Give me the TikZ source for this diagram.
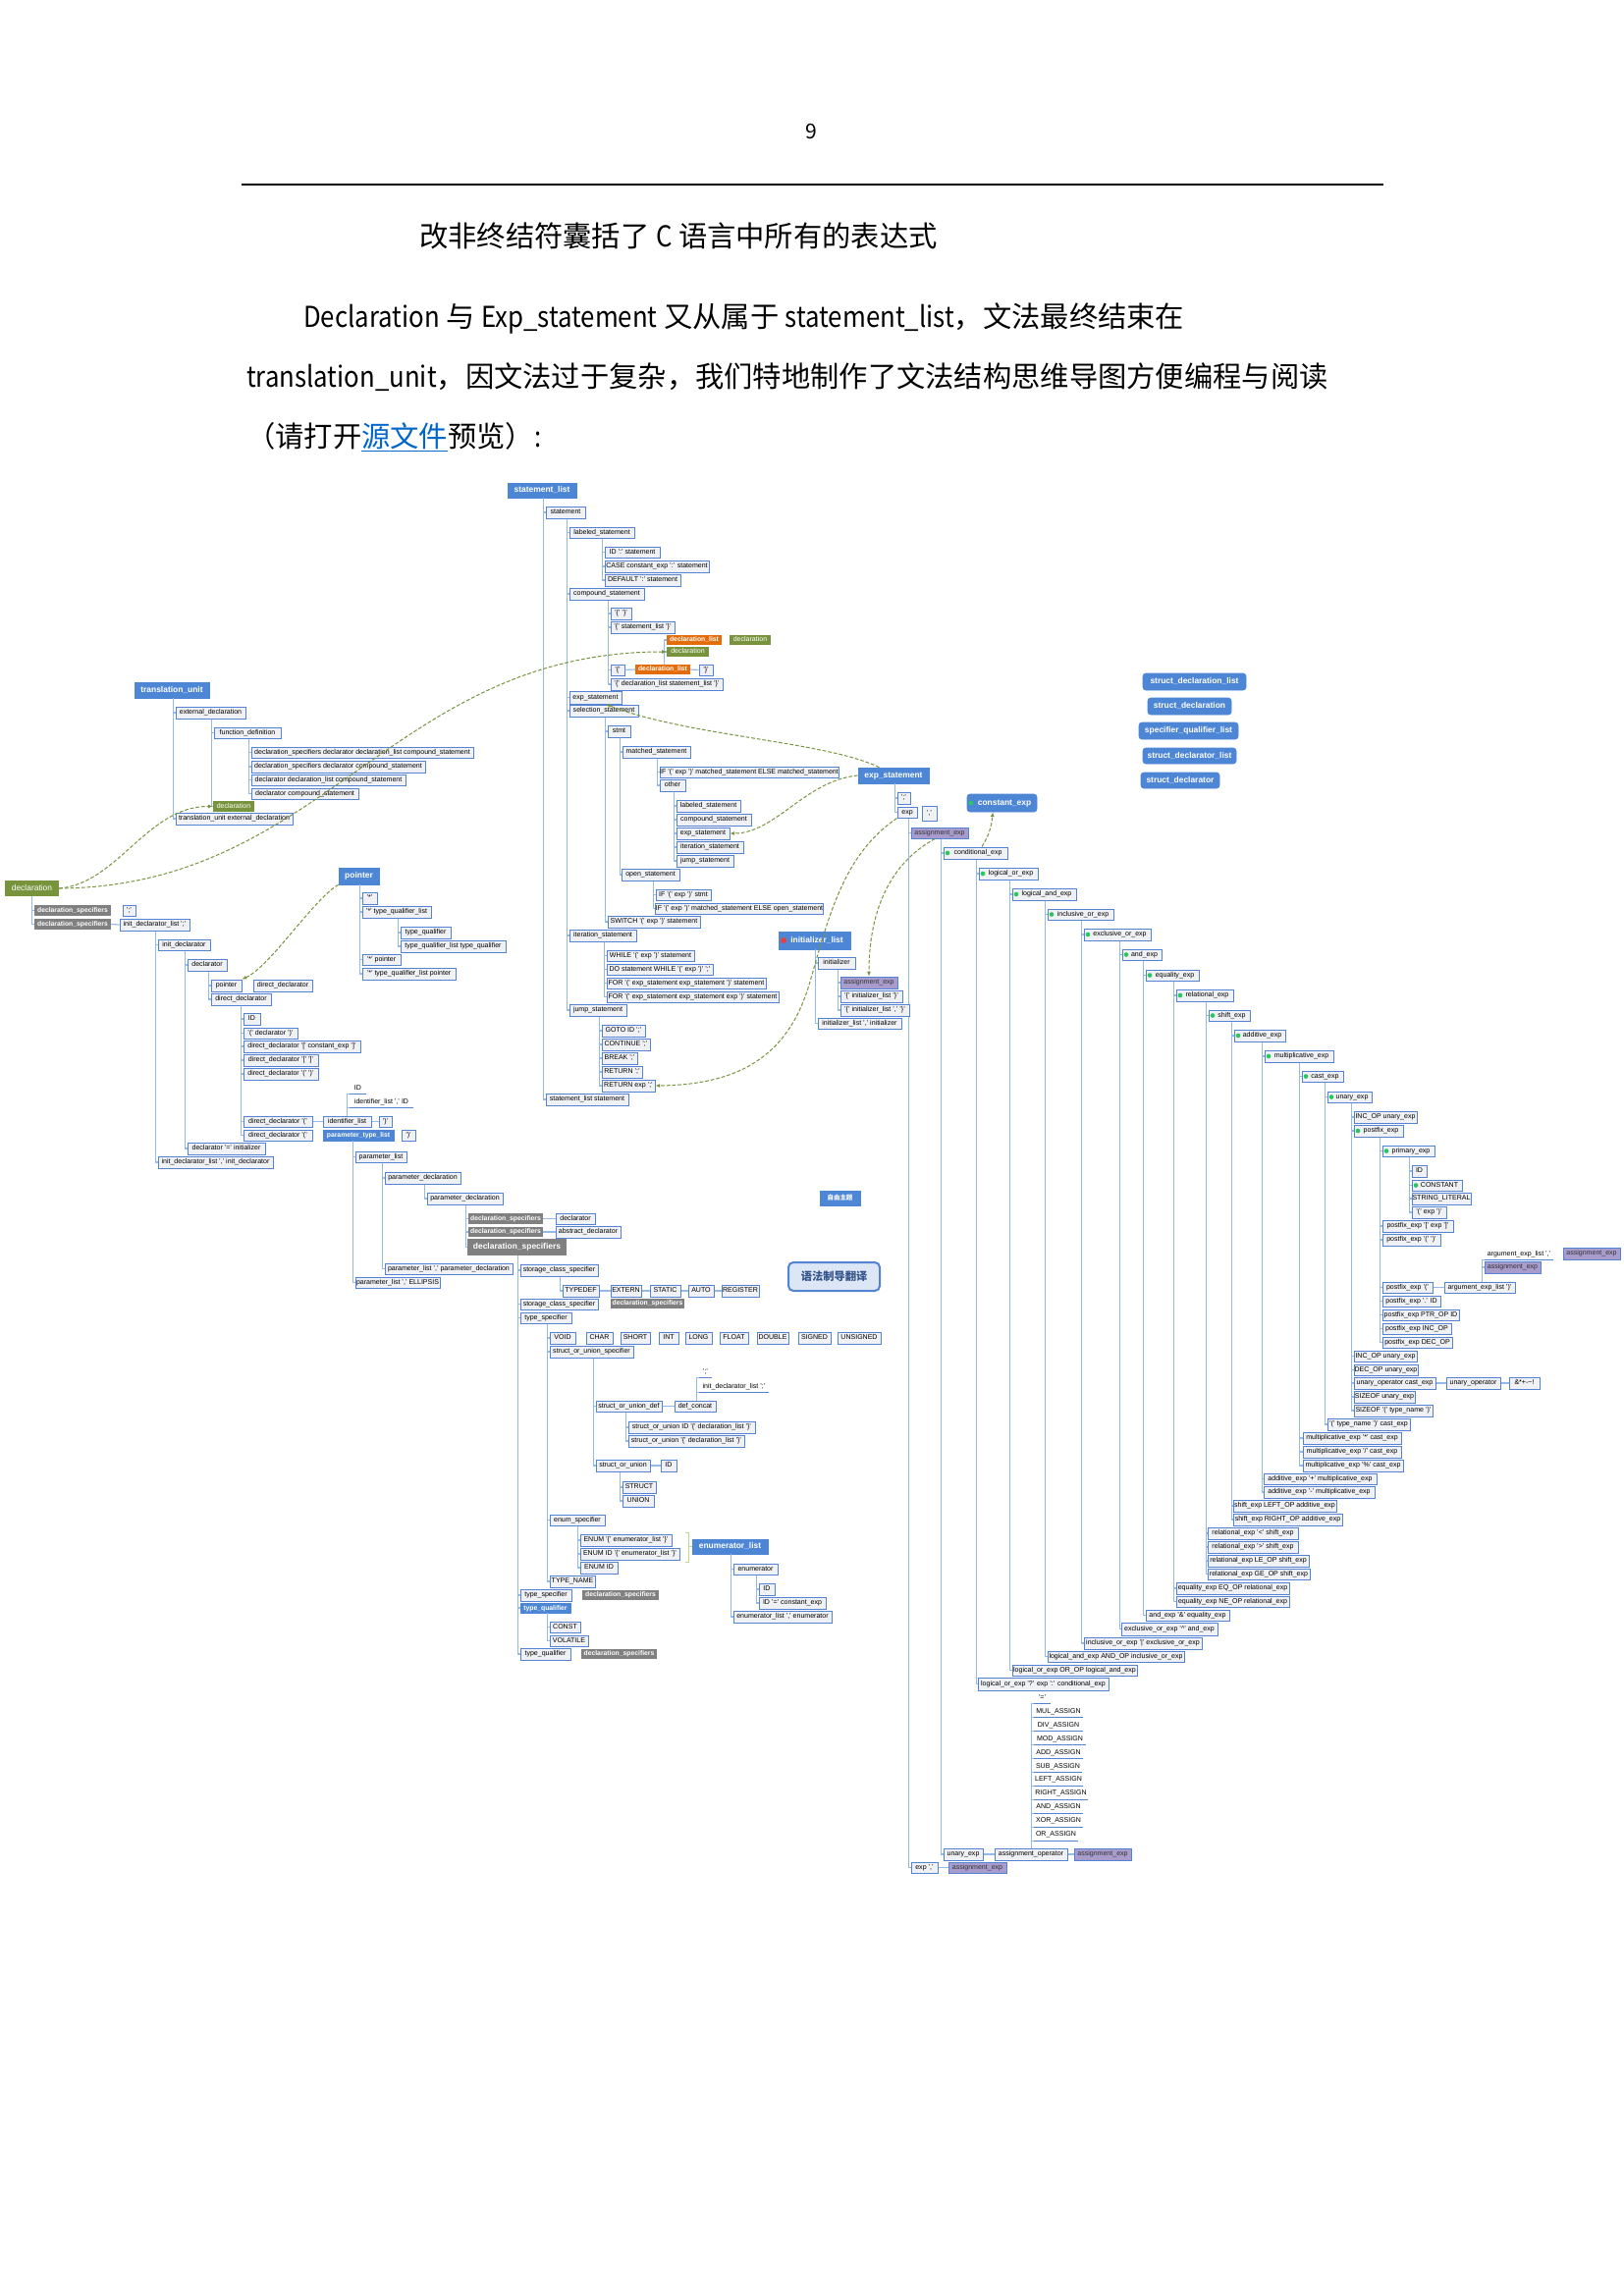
\documentclass[tikz,border=0pt]{standalone}
\usepackage{fontspec}
\setmainfont{Liberation Sans}
\newfontfamily\cjk{Noto Sans CJK SC}
\newfontfamily\lat{Noto Sans CJK SC}[FakeStretch=0.88]
\usetikzlibrary{arrows.meta,calc}
\definecolor{bd}{RGB}{84,130,212}
\definecolor{bf}{RGB}{240,241,244}
\definecolor{hbf}{RGB}{78,134,214}
\definecolor{grf}{RGB}{128,128,128}
\definecolor{orf}{RGB}{228,108,10}
\definecolor{olf}{RGB}{119,147,60}
\definecolor{puf}{RGB}{168,156,204}
\definecolor{tlc}{RGB}{150,185,230}
\definecolor{chk}{RGB}{40,200,90}
\definecolor{rdc}{RGB}{232,64,64}
\definecolor{ysf}{RGB}{220,230,244}
\definecolor{yst}{RGB}{52,84,140}
\definecolor{brk}{RGB}{190,214,140}
\definecolor{lnk}{RGB}{0,102,204}
\newcommand\dfs{\fontsize{6}{7}\selectfont}
\newcommand\dfsb{\fontsize{5.8}{7}\selectfont\bfseries}
\newcommand\dfb{\fontsize{7.2}{8}\selectfont\bfseries}
\newcommand\icn{\hspace*{1.5mm}}
\newcommand\Bx[7]{\node[#2,minimum width={(#5-#3)*0.3mm},minimum height={(#6-#4)*0.3mm}] (#1) at ({(#3+#5)/2},{(#4+#6)/2}) {#7};}
\newcommand\Ul[6]{\Bx{#1}{ul}{#2}{#3}{#4}{#5}{#6}\draw[ulc] (#1.south west) -- (#1.south east);}
\newcommand\Tr[3]{\foreach \nd in {#3}{\draw[tl] ($(#1.south -| #2.west)+(-2,0)$) |- (\nd.west);}}
\newcommand\Up[4]{\foreach \nd in {#3}{\draw[tl] ($(#1.north -| #2.west)+(-2,0)$) |- (\nd.#4);}}
\newcommand\Hl[2]{\draw[tl] (#1.east) -- (#2.west);}
\tikzset{
 b/.style={draw=bd,fill=bf,line width=0.3mm,inner sep=0,font=\dfs,text=black,text height=1.6mm,text depth=0.45mm},
 hb/.style={fill=hbf,draw=hbf,line width=0.2mm,inner sep=0,font=\dfb,text=white,text height=2mm,text depth=0.6mm},
 rb/.style={hb,rounded corners=0.9mm},
 gr/.style={fill=grf,inner sep=0,font=\dfsb,text=white,text height=1.55mm,text depth=0.45mm},
 grb/.style={fill=grf,inner sep=0,font=\dfb,text=white,text height=2mm,text depth=0.6mm},
 org/.style={fill=orf,inner sep=0,font=\dfsb,text=white,text height=1.55mm,text depth=0.45mm},
 grn/.style={fill=olf,inner sep=0,font=\dfs,text=white,text height=1.55mm,text depth=0.45mm},
 grnb/.style={fill=olf,inner sep=0,font=\fontsize{7.2}{8}\selectfont,text=white,text height=2mm,text depth=0.6mm},
 pur/.style={b,fill=puf,text=black!80},
 ul/.style={inner sep=0,font=\dfs,text=black,text height=1.6mm,text depth=0.45mm},
 ulc/.style={draw=bd,line width=0.45mm},
 ic/.style={path picture={\fill[chk] ([xshift=1.2mm]path picture bounding box.west) circle (0.7mm);}},
 rdic/.style={path picture={\fill[rdc] ([xshift=1.5mm]path picture bounding box.west) circle (0.9mm);}},
 tl/.style={draw=tlc,line width=0.35mm},
 dsh/.style={draw=olf,line width=0.3mm,dash pattern=on 1.1mm off 0.6mm,-{Latex[length=1.4mm,width=1.2mm]}},
 txt/.style={font=\cjk\fontsize{25}{29}\selectfont,inner sep=0,anchor=west}
}
\begin{document}
\begin{tikzpicture}[x=0.3mm,y=-0.3mm]
\useasboundingbox[fill=white] (0,0) rectangle (1654,2339);
% ---------- page text ----------
\node[font=\cjk\fontsize{18}{20}\selectfont] (pg) at (826,134) {9};
\draw[line width=0.8mm] (246,188) -- (1409,188);
\node[txt] (l1) at (427,240) {改非终结符囊括了 {\lat C} 语言中所有的表达式};
\node[txt] (l2) at (309,324) {{\lat Declaration} 与 {\lat Exp\_statement} 又从属于 {\lat statement\_list}，文法最终结束在};
\node[txt] (l3) at (251,384) {{\lat translation\_unit}，因文法过于复杂，我们特地制作了文法结构思维导图方便编程与阅读};
\node[txt] (l4) at (251,445) {（请打开\textcolor{lnk}{\underline{源文件}}预览）{\lat :}};
% ---------- statement tree ----------
\Bx{stl}{hb}{517}{492}{587}{507}{statement\_list}
\Bx{stm}{b}{556}{516}{596}{528}{statement}
\Bx{lab}{b}{580}{537}{646}{548}{labeled\_statement}
\Bx{lab1}{b}{616}{557}{672}{568}{ID ':' statement}
\Bx{lab2}{b}{616}{571}{722}{583}{CASE constant\_exp ':' statement}
\Bx{lab3}{b}{616}{585}{693}{597}{DEFAULT ':' statement}
\Bx{cmp}{b}{580}{599}{656}{611}{compound\_statement}
\Bx{cmp1}{b}{622}{619}{643}{631}{'\{' '\}'}
\Bx{cmp2}{b}{622}{633}{687}{645}{'\{' statement\_list '\}'}
\Bx{dlo1}{org}{679}{647}{735}{657}{declaration\_list}
\Bx{dg1}{grn}{743}{647}{785}{657}{declaration}
\Bx{dg2}{grn}{679}{659}{722}{669}{declaration}
\Bx{cmp3}{b}{622}{677}{636}{688}{'\{'}
\Bx{dlo2}{org}{647}{677}{703}{687}{declaration\_list}
\Bx{cmp3b}{b}{712}{677}{726}{688}{'\}'}
\Bx{cmp4}{b}{622}{691}{736}{703}{'\{' declaration\_list statement\_list '\}'}
\Bx{exs}{b}{580}{704}{633}{717}{exp\_statement}
\Bx{sel}{b}{580}{718}{650}{730}{selection\_statement}
\Bx{stmt}{b}{619}{739}{642}{751}{stmt}
\Bx{mat}{b}{634}{760}{703}{772}{matched\_statement}
\Bx{mat1}{b}{672}{781}{854}{792}{IF '(' exp ')' matched\_statement ELSE matched\_statement}
\Bx{oth}{b}{672}{794}{698}{806}{other}
\Bx{oth1}{b}{689}{815}{754}{827}{labeled\_statement}
\Bx{oth2}{b}{689}{829}{765}{841}{compound\_statement}
\Bx{oth3}{b}{689}{843}{743}{855}{exp\_statement}
\Bx{oth4}{b}{689}{857}{757}{869}{iteration\_statement}
\Bx{oth5}{b}{689}{871}{747}{883}{jump\_statement}
\Bx{opn}{b}{633}{885}{692}{897}{open\_statement}
\Bx{opn1}{b}{668}{906}{724}{917}{IF '(' exp ')' stmt}
\Bx{opn2}{b}{668}{920}{838}{931}{IF '(' exp ')' matched\_statement ELSE open\_statement}
\Bx{sw}{b}{619}{933}{713}{945}{SWITCH '(' exp ')' statement}
\Bx{itr}{b}{580}{947}{648}{959}{iteration\_statement}
\Bx{it1}{b}{618}{968}{707}{979}{WHILE '(' exp ')' statement}
\Bx{it2}{b}{618}{982}{726}{993}{DO statement WHILE '(' exp ')' ';'}
\Bx{it3}{b}{618}{996}{780}{1007}{FOR '(' exp\_statement exp\_statement ')' statement}
\Bx{it4}{b}{618}{1010}{793}{1021}{FOR '(' exp\_statement exp\_statement exp ')' statement}
\Bx{jmp}{b}{580}{1023}{638}{1035}{jump\_statement}
\Bx{jp1}{b}{613}{1044}{657}{1056}{GOTO ID ';'}
\Bx{jp2}{b}{613}{1058}{662}{1070}{CONTINUE ';'}
\Bx{jp3}{b}{613}{1072}{649}{1084}{BREAK ';'}
\Bx{jp4}{b}{613}{1086}{654}{1098}{RETURN ';'}
\Bx{jp5}{b}{613}{1100}{667}{1112}{RETURN exp ';'}
\Bx{stls}{b}{556}{1114}{640}{1126}{statement\_list statement}
\Tr{stl}{stm}{stm,stls}
\Tr{stm}{lab}{lab,cmp,exs,sel,itr,jmp}
\Tr{lab}{lab1}{lab1,lab2,lab3}
\Tr{cmp}{cmp1}{cmp1,cmp2,cmp3,cmp4}
\Tr{sel}{stmt}{stmt,sw}
\Tr{stmt}{mat}{mat,opn}
\Tr{mat}{mat1}{mat1,oth}
\Tr{oth}{oth1}{oth1,oth2,oth3,oth4,oth5}
\Tr{opn}{opn1}{opn1,opn2}
\Tr{itr}{it1}{it1,it2,it3,it4}
\Tr{jmp}{jp1}{jp1,jp2,jp3,jp4,jp5}
\Up{dlo2}{dlo1}{dlo1,dg2}{west}
\Hl{cmp3}{dlo2}\Hl{dlo2}{cmp3b}
% ---------- translation unit ----------
\Bx{tu}{hb}{137}{695}{213}{711}{translation\_unit}
\Bx{ext}{b}{179}{720}{250}{732}{external\_declaration}
\Bx{fd}{b}{218}{741}{286}{752}{function\_definition}
\Bx{fd1}{b}{256}{761}{482}{772}{declaration\_specifiers declarator declaration\_list compound\_statement}
\Bx{fd2}{b}{256}{775}{433}{787}{declaration\_specifiers declarator compound\_statement}
\Bx{fd3}{b}{256}{789}{413}{800}{declarator declaration\_list compound\_statement}
\Bx{fd4}{b}{256}{803}{365}{814}{declarator compound\_statement}
\Bx{dg3}{grn}{217}{816}{259}{827}{declaration}
\Bx{tu2}{b}{179}{828}{298}{840}{translation\_unit external\_declaration}
\Tr{tu}{ext}{ext,tu2}
\Tr{ext}{fd}{fd,dg3}
\Tr{fd}{fd1}{fd1,fd2,fd3,fd4}
% ---------- declaration ----------
\Bx{dec}{grnb}{5}{897}{60}{913}{declaration}
\Bx{ds1}{gr}{35}{922}{113}{933}{declaration\_specifiers}
\Bx{sc1}{b}{125}{922}{138}{933}{';'}
\Bx{ds2}{gr}{35}{936}{113}{947}{declaration\_specifiers}
\Bx{idl}{b}{122}{936}{193}{948}{init\_declarator\_list ';'}
\Bx{ind}{b}{161}{957}{214}{968}{init\_declarator}
\Bx{dcl}{b}{191}{977}{231}{989}{declarator}
\Bx{ptr2}{b}{215}{998}{246}{1010}{pointer}
\Bx{dd0}{b}{258}{998}{318}{1010}{direct\_declarator}
\Bx{dd}{b}{215}{1012}{276}{1024}{direct\_declarator}
\Bx{dd1}{b}{248}{1032}{265}{1044}{ID}
\Bx{dd2}{b}{248}{1047}{303}{1058}{'(' declarator ')'}
\Bx{dd3}{b}{248}{1060}{367}{1072}{direct\_declarator '[' constant\_exp ']'}
\Bx{dd4}{b}{248}{1074}{324}{1086}{direct\_declarator '[' ']'}
\Bx{dd5}{b}{248}{1088}{324}{1100}{direct\_declarator '(' ')'}
\Ul{uid}{356}{1103}{373}{1114}{ID}
\Ul{uidl}{356}{1117}{421}{1128}{identifier\_list ',' ID}
\Bx{dd6}{b}{248}{1137}{318}{1148}{direct\_declarator '('}
\Bx{idlst}{b}{329}{1137}{378}{1148}{identifier\_list}
\Bx{rp1}{b}{386}{1137}{399}{1148}{')'}
\Bx{dd7}{b}{248}{1151}{318}{1162}{direct\_declarator '('}
\Bx{ptl}{hb}{329}{1151}{401}{1162}{\dfsb parameter\_type\_list}
\Bx{rp2}{b}{409}{1151}{423}{1162}{')'}
\Bx{dcl2}{b}{191}{1164}{270}{1176}{declarator '=' initializer}
\Bx{idl2}{b}{161}{1178}{278}{1190}{init\_declarator\_list ',' init\_declarator}
\Bx{pl}{b}{362}{1173}{414}{1184}{parameter\_list}
\Bx{pd}{b}{392}{1194}{469}{1206}{parameter\_declaration}
\Bx{pd2}{b}{435}{1215}{512}{1227}{parameter\_declaration}
\Bx{ds3}{gr}{477}{1236}{553}{1247}{declaration\_specifiers}
\Bx{dclr}{b}{566}{1236}{606}{1247}{declarator}
\Bx{ds4}{gr}{477}{1250}{553}{1260}{declaration\_specifiers}
\Bx{absd}{b}{566}{1249}{632}{1261}{abstract\_declarator}
\Bx{dsb}{grb}{476}{1262}{577}{1279}{declaration\_specifiers}
\Bx{pl2}{b}{392}{1287}{522}{1298}{parameter\_list ',' parameter\_declaration}
\Bx{pl3}{b}{362}{1301}{448}{1312}{parameter\_list ',' ELLIPSIS}
\Bx{scs}{b}{530}{1288}{609}{1300}{storage\_class\_specifier}
\Bx{k1}{b}{573}{1309}{610}{1321}{TYPEDEF}
\Bx{k2}{b}{622}{1309}{653}{1321}{EXTERN}
\Bx{k3}{b}{662}{1309}{693}{1321}{STATIC}
\Bx{k4}{b}{701}{1309}{727}{1321}{AUTO}
\Bx{k5}{b}{735}{1309}{773}{1321}{REGISTER}
\Bx{scs2}{b}{530}{1323}{609}{1334}{storage\_class\_specifier}
\Bx{ds5}{gr}{622}{1323}{697}{1333}{declaration\_specifiers}
\Bx{tsp}{b}{530}{1337}{582}{1348}{type\_specifier}
\Bx{t1}{b}{560}{1357}{586}{1369}{VOID}
\Bx{t2}{b}{597}{1357}{624}{1369}{CHAR}
\Bx{t3}{b}{632}{1357}{662}{1369}{SHORT}
\Bx{t4}{b}{671}{1357}{691}{1369}{INT}
\Bx{t5}{b}{698}{1357}{725}{1369}{LONG}
\Bx{t6}{b}{733}{1357}{762}{1369}{FLOAT}
\Bx{t7}{b}{771}{1357}{803}{1369}{DOUBLE}
\Bx{t8}{b}{813}{1357}{846}{1369}{SIGNED}
\Bx{t9}{b}{853}{1357}{897}{1369}{UNSIGNED}
\Bx{sus}{b}{560}{1371}{645}{1383}{struct\_or\_union\_specifier}
\Ul{u1}{712}{1392}{725}{1403}{';'}
\Ul{u2}{712}{1407}{783}{1418}{init\_declarator\_list ';'}
\Bx{sud}{b}{607}{1427}{674}{1438}{struct\_or\_union\_def}
\Bx{dcc}{b}{687}{1427}{729}{1438}{def\_concat}
\Bx{sud1}{b}{640}{1448}{769}{1460}{struct\_or\_union ID '\{' declaration\_list '\}'}
\Bx{sud2}{b}{640}{1462}{758}{1474}{struct\_or\_union '\{' declaration\_list '\}'}
\Bx{su}{b}{607}{1487}{662}{1499}{struct\_or\_union}
\Bx{suid}{b}{673}{1487}{689}{1499}{ID}
\Bx{su1}{b}{634}{1509}{668}{1521}{STRUCT}
\Bx{su2}{b}{634}{1523}{666}{1535}{UNION}
\Bx{ens}{b}{560}{1543}{616}{1554}{enum\_specifier}
\Bx{en1}{b}{591}{1563}{684}{1575}{ENUM '\{' enumerator\_list '\}'}
\Bx{en2}{b}{591}{1577}{692}{1589}{ENUM ID '\{' enumerator\_list '\}'}
\Bx{en3}{b}{591}{1591}{629}{1603}{ENUM ID}
\Bx{enl}{hb}{705}{1568}{782}{1583}{enumerator\_list}
\Bx{enm}{b}{747}{1593}{792}{1604}{enumerator}
\Bx{enm1}{b}{773}{1613}{789}{1625}{ID}
\Bx{enm2}{b}{773}{1627}{841}{1639}{ID '=' constant\_exp}
\Bx{enl2}{b}{747}{1641}{847}{1653}{enumerator\_list ',' enumerator}
\Bx{tn}{b}{560}{1605}{606}{1617}{TYPE\_NAME}
\Bx{tsp2}{b}{530}{1619}{582}{1631}{type\_specifier}
\Bx{ds6}{gr}{593}{1620}{671}{1630}{declaration\_specifiers}
\Bx{tq}{hb}{530}{1633}{581}{1643}{\dfsb type\_qualifier}
\Bx{cst}{b}{560}{1652}{591}{1663}{CONST}
\Bx{vol}{b}{560}{1666}{599}{1677}{VOLATILE}
\Bx{tq2}{b}{530}{1679}{581}{1691}{type\_qualifier}
\Bx{ds7}{gr}{592}{1680}{669}{1690}{declaration\_specifiers}
\draw[brk,line width=0.4mm] ($(en1.north east)+(13,-1)$) -- ++(4,0) -- ($(en3.south east)+(72,-12)$) -- ++(-4,0);
\draw[brk,line width=0.4mm] ($(enl.west)+(-4,0)$) -- (enl.west);
\Tr{dec}{ds1}{ds1,ds2}
\Hl{ds2}{idl}
\Tr{idl}{ind}{ind,idl2}
\Tr{ind}{dcl}{dcl,dcl2}
\Tr{dcl}{ptr2}{ptr2,dd}
\Tr{dd}{dd1}{dd1,dd2,dd3,dd4,dd5,dd6,dd7}
\Hl{dd6}{idlst}\Hl{idlst}{rp1}
\Up{idlst}{uid}{uid,uidl}{south west}
\Tr{ptl}{pl}{pl,pl3}
\Tr{pl}{pd}{pd,pl2}
\Tr{pd}{pd2}{pd2}
\Tr{pd2}{ds3}{ds3,ds4,dsb}
\Hl{ds3}{dclr}\Hl{ds4}{absd}
\Tr{dsb}{scs}{scs,scs2,tsp,tsp2,tq,tq2}
\Tr{scs}{k1}{k1}
\Hl{k1}{k2}\Hl{k2}{k3}\Hl{k3}{k4}\Hl{k4}{k5}
\Tr{tsp}{t1}{t1,sus,ens,tn}
\Tr{sus}{sud}{sud,su}
\Hl{sud}{dcc}\Hl{su}{suid}
\Up{dcc}{u1}{u1,u2}{south west}
\Tr{sud}{sud1}{sud1,sud2}
\Tr{su}{su1}{su1,su2}
\Tr{ens}{en1}{en1,en2,en3}
\Tr{enl}{enm}{enm,enl2}
\Tr{enm}{enm1}{enm1,enm2}
\Tr{tq}{cst}{cst,vol}
% ---------- pointer ----------
\Bx{ptr}{hb}{345}{884}{386}{901}{pointer}
\Bx{p1}{b}{369}{909}{384}{921}{'*'}
\Bx{p2}{b}{369}{923}{439}{935}{'*' type\_qualifier\_list}
\Bx{p21}{b}{408}{944}{459}{956}{type\_qualifier}
\Bx{p22}{b}{408}{958}{515}{970}{type\_qualifier\_list type\_qualifier}
\Bx{p3}{b}{369}{972}{408}{983}{'*' pointer}
\Bx{p4}{b}{369}{986}{464}{998}{'*' type\_qualifier\_list pointer}
\Tr{ptr}{p1}{p1,p2,p3,p4}
\Tr{p2}{p21}{p21,p22}
% ---------- expressions ----------
\Bx{exst}{hb}{874}{782}{946}{798}{exp\_statement}
\Bx{es1}{b}{914}{807}{927}{819}{';'}
\Bx{exp}{b}{914}{822}{934}{833}{exp}
\Bx{cm}{b}{939}{821}{954}{836}{','}
\Bx{ae}{pur}{928}{843}{986}{854}{assignment\_exp}
\Bx{cexp}{rb,ic}{985}{809}{1056}{827}{\icn constant\_exp}
\Bx{ce}{b,ic}{961}{863}{1026}{875}{\icn conditional\_exp}
\Bx{lo}{b,ic}{997}{884}{1057}{896}{\icn logical\_or\_exp}
\Bx{la}{b,ic}{1031}{905}{1096}{917}{\icn logical\_and\_exp}
\Bx{io}{b,ic}{1067}{926}{1134}{937}{\icn inclusive\_or\_exp}
\Bx{xo}{b,ic}{1104}{946}{1172}{958}{\icn exclusive\_or\_exp}
\Bx{an}{b,ic}{1143}{967}{1183}{978}{\icn and\_exp}
\Bx{eq}{b,ic}{1167}{988}{1221}{999}{\icn equality\_exp}
\Bx{re}{b,ic}{1198}{1008}{1256}{1020}{\icn relational\_exp}
\Bx{sh}{b,ic}{1231}{1029}{1273}{1040}{\icn shift\_exp}
\Bx{ad}{b,ic}{1257}{1049}{1309}{1061}{\icn additive\_exp}
\Bx{mu}{b,ic}{1288}{1070}{1358}{1082}{\icn multiplicative\_exp}
\Bx{ca}{b,ic}{1326}{1091}{1368}{1102}{\icn cast\_exp}
\Bx{un}{b,ic}{1352}{1112}{1397}{1123}{\icn unary\_exp}
\Bx{un1}{b}{1379}{1132}{1443}{1144}{INC\_OP unary\_exp}
\Bx{pf}{b,ic}{1379}{1146}{1429}{1158}{\icn postfix\_exp}
\Bx{pr}{b,ic}{1408}{1167}{1461}{1178}{\icn primary\_exp}
\Bx{pr1}{b}{1438}{1187}{1453}{1199}{ID}
\Bx{pr2}{b,ic}{1438}{1202}{1489}{1213}{\icn CONSTANT}
\Bx{pr3}{b}{1438}{1215}{1498}{1227}{STRING\_LITERAL}
\Bx{pr4}{b}{1438}{1229}{1473}{1241}{'(' exp ')'}
\Bx{pf2}{b}{1408}{1243}{1480}{1255}{postfix\_exp '[' exp ']'}
\Bx{pf3}{b}{1408}{1257}{1467}{1269}{postfix\_exp '(' ')'}
\Ul{ua1}{1512}{1272}{1582}{1283}{argument\_exp\_list ','}
\Bx{ae2}{pur}{1592}{1271}{1650}{1283}{assignment\_exp}
\Bx{ae3}{pur}{1512}{1285}{1569}{1297}{assignment\_exp}
\Bx{pf4}{b}{1408}{1306}{1459}{1317}{postfix\_exp '('}
\Bx{arg}{b}{1471}{1306}{1543}{1317}{argument\_exp\_list ')'}
\Bx{pf5}{b}{1408}{1320}{1467}{1331}{postfix\_exp '.' ID}
\Bx{pf6}{b}{1408}{1334}{1486}{1345}{postfix\_exp PTR\_OP ID}
\Bx{pf7}{b}{1408}{1348}{1478}{1359}{postfix\_exp INC\_OP}
\Bx{pf8}{b}{1408}{1362}{1479}{1373}{postfix\_exp DEC\_OP}
\Bx{un2}{b}{1379}{1376}{1443}{1387}{INC\_OP unary\_exp}
\Bx{un3}{b}{1379}{1390}{1444}{1401}{DEC\_OP unary\_exp}
\Bx{un4}{b}{1379}{1403}{1462}{1415}{unary\_operator cast\_exp}
\Bx{uop}{b}{1473}{1403}{1528}{1415}{unary\_operator}
\Bx{uops}{b}{1537}{1403}{1568}{1415}{\&*+-\textasciitilde!}
\Bx{un5}{b}{1379}{1417}{1441}{1429}{SIZEOF unary\_exp}
\Bx{un6}{b}{1379}{1431}{1459}{1443}{SIZEOF '(' type\_name ')'}
\Bx{ca2}{b}{1352}{1445}{1436}{1457}{'(' type\_name ')' cast\_exp}
\Bx{mu1}{b}{1327}{1459}{1427}{1471}{multiplicative\_exp '*' cast\_exp}
\Bx{mu2}{b}{1327}{1473}{1427}{1485}{multiplicative\_exp '/' cast\_exp}
\Bx{mu3}{b}{1327}{1487}{1429}{1499}{multiplicative\_exp '\%' cast\_exp}
\Bx{ad1}{b}{1287}{1501}{1402}{1512}{additive\_exp '+' multiplicative\_exp}
\Bx{ad2}{b}{1287}{1514}{1400}{1526}{additive\_exp '-' multiplicative\_exp}
\Bx{sh1}{b}{1256}{1528}{1361}{1540}{shift\_exp LEFT\_OP additive\_exp}
\Bx{sh2}{b}{1256}{1542}{1367}{1554}{shift\_exp RIGHT\_OP additive\_exp}
\Bx{re1}{b}{1230}{1556}{1322}{1568}{relational\_exp '<' shift\_exp}
\Bx{re2}{b}{1230}{1570}{1322}{1582}{relational\_exp '>' shift\_exp}
\Bx{re3}{b}{1230}{1584}{1333}{1596}{relational\_exp LE\_OP shift\_exp}
\Bx{re4}{b}{1230}{1598}{1334}{1609}{relational\_exp GE\_OP shift\_exp}
\Bx{eq1}{b}{1198}{1612}{1313}{1624}{equality\_exp EQ\_OP relational\_exp}
\Bx{eq2}{b}{1198}{1626}{1313}{1637}{equality\_exp NE\_OP relational\_exp}
\Bx{an1}{b}{1167}{1640}{1252}{1651}{and\_exp '\&' equality\_exp}
\Bx{xo1}{b}{1142}{1653}{1240}{1666}{exclusive\_or\_exp '\textasciicircum' and\_exp}
\Bx{io1}{b}{1104}{1668}{1224}{1680}{inclusive\_or\_exp '|' exclusive\_or\_exp}
\Bx{la1}{b}{1067}{1682}{1206}{1693}{logical\_and\_exp AND\_OP inclusive\_or\_exp}
\Bx{lo1}{b}{1031}{1696}{1158}{1707}{logical\_or\_exp OR\_OP logical\_and\_exp}
\Bx{ce1}{b}{996}{1709}{1129}{1722}{logical\_or\_exp '?' exp ':' conditional\_exp}
\Ul{as1}{1053}{1724}{1070}{1735}{'='}
\Ul{as2}{1053}{1738}{1103}{1749}{MUL\_ASSIGN}
\Ul{as3}{1053}{1752}{1103}{1763}{DIV\_ASSIGN}
\Ul{as4}{1053}{1766}{1106}{1777}{MOD\_ASSIGN}
\Ul{as5}{1053}{1780}{1103}{1791}{ADD\_ASSIGN}
\Ul{as6}{1053}{1794}{1102}{1805}{SUB\_ASSIGN}
\Ul{as7}{1053}{1807}{1103}{1819}{LEFT\_ASSIGN}
\Ul{as8}{1053}{1821}{1108}{1833}{RIGHT\_ASSIGN}
\Ul{as9}{1053}{1835}{1103}{1847}{AND\_ASSIGN}
\Ul{as10}{1053}{1849}{1103}{1861}{XOR\_ASSIGN}
\Ul{as11}{1053}{1863}{1098}{1875}{OR\_ASSIGN}
\Bx{uex}{b}{961}{1883}{1001}{1895}{unary\_exp}
\Bx{aop}{b}{1013}{1883}{1087}{1895}{assignment\_operator}
\Bx{ae4}{pur}{1094}{1883}{1152}{1895}{assignment\_exp}
\Bx{ec}{b}{928}{1897}{955}{1908}{exp ','}
\Bx{ae5}{pur}{966}{1897}{1025}{1908}{assignment\_exp}
\Tr{exst}{es1}{es1,exp}
\Tr{exp}{ae}{ae,ec}
\Tr{ae}{ce}{ce,uex}
\Tr{ce}{lo}{lo,ce1}
\Tr{lo}{la}{la,lo1}
\Tr{la}{io}{io,la1}
\Tr{io}{xo}{xo,io1}
\Tr{xo}{an}{an,xo1}
\Tr{an}{eq}{eq,an1}
\Tr{eq}{re}{re,eq1,eq2}
\Tr{re}{sh}{sh,re1,re2,re3,re4}
\Tr{sh}{ad}{ad,sh1,sh2}
\Tr{ad}{mu}{mu,ad1,ad2}
\Tr{mu}{ca}{ca,mu1,mu2,mu3}
\Tr{ca}{un}{un,ca2}
\Tr{un}{un1}{un1,pf,un2,un3,un4,un5,un6}
\Tr{pf}{pr}{pr,pf2,pf3,pf4,pf5,pf6,pf7,pf8}
\Tr{pr}{pr1}{pr1,pr2,pr3,pr4}
\Hl{pf4}{arg}
\Up{arg}{ua1}{ua1}{south west}
\Up{arg}{ua1}{ae3}{west}
\Hl{un4}{uop}\Hl{uop}{uops}
\Hl{uex}{aop}\Hl{aop}{ae4}\Hl{ec}{ae5}
\Up{aop}{as1}{as1,as2,as3,as4,as5,as6,as7,as8,as9,as10,as11}{south west}
% ---------- initializer ----------
\Bx{inl}{hb,rdic}{793}{949}{866}{967}{\icn initializer\_list}
\Bx{ini}{b}{833}{975}{871}{987}{initializer}
\Bx{ia}{pur}{856}{995}{914}{1007}{assignment\_exp}
\Bx{ib}{b}{856}{1009}{919}{1021}{'\{' initializer\_list '\}'}
\Bx{ic}{b}{856}{1023}{926}{1035}{'\{' initializer\_list ',' '\}'}
\Bx{inl2}{b}{833}{1037}{918}{1048}{initializer\_list ',' initializer}
\Tr{inl}{ini}{ini,inl2}
\Tr{ini}{ia}{ia,ib,ic}
% ---------- floating topics ----------
\Bx{sdl}{rb}{1164}{686}{1269}{703}{struct\_declaration\_list}
\Bx{sdn}{rb}{1169}{711}{1254}{728}{struct\_declaration}
\Bx{sql}{rb}{1160}{736}{1261}{753}{specifier\_qualifier\_list}
\Bx{sdrl}{rb}{1164}{762}{1259}{778}{struct\_declarator\_list}
\Bx{sdr}{rb}{1162}{787}{1242}{803}{struct\_declarator}
\Bx{free}{hb}{835}{1213}{876}{1228}{\cjk\fontsize{5.5}{6}\selectfont 自由主题}
\node[draw=bd,fill=ysf,line width=0.6mm,rounded corners=1.5mm,minimum width={93*0.3mm},minimum height={29*0.3mm},inner sep=0,text=yst,font=\cjk\fontsize{9.6}{11}\selectfont\bfseries] (ysd) at (849.5,1300.5) {语法制导翻译};
% ---------- dashed links ----------
\draw[dsh] (dec.east) .. controls (120,900) and (150,821) .. (dg3.west);
\draw[dsh] (dec.east) .. controls (330,903) and (400,664) .. (dg2.west);
\draw[dsh] (ptr.south west) .. controls (320,915) and (275,985) .. (ptr2.north east);
\draw[dsh] ($(exst.north west)!0.3!(exst.north east)$) .. controls (840,755) and (700,750) .. ($(exs.south west)!0.7!(exs.south east)$);
\draw[dsh] (exst.west) .. controls (820,795) and (790,849) .. (oth3.east);
\draw[dsh] (exp.south west) .. controls (860,870) and (845,930) .. (825,1000) .. controls (805,1070) and (760,1105) .. (jp5.east);
\draw[dsh] ($(ae.south west)!0.42!(ae.south east)$) .. controls (905,880) and (885,930) .. (ia.north);
\draw[dsh] ($(ce.north west)!0.6!(ce.north east)$) .. controls (1008,850) and (1010,840) .. ($(cexp.south west)!0.37!(cexp.south east)$);
\end{tikzpicture}
\end{document}
